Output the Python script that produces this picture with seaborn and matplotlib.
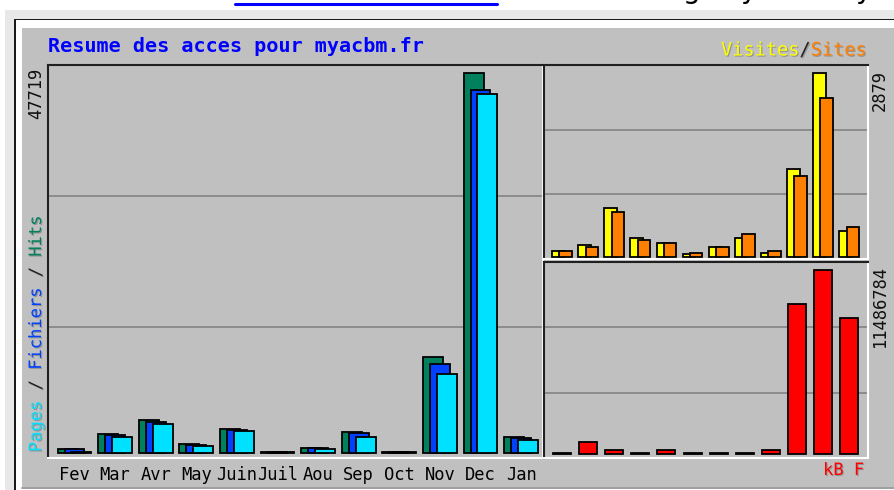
import matplotlib
matplotlib.use("Agg")
import matplotlib.pyplot as plt
import matplotlib.patheffects as pe
from matplotlib.patches import Rectangle
from matplotlib.lines import Line2D
import numpy as np
import seaborn as sns

W, H = 894, 490

MONTHS = ["Fev", "Mar", "Avr", "May", "Juin", "Juil", "Aou", "Sep", "Oct", "Nov", "Dec", "Jan"]
HITS = [560, 2370, 4150, 1130, 3010, 90, 630, 2600, 100, 12055, 47719, 2050]
FILES = [520, 2300, 3900, 1050, 2950, 80, 600, 2550, 90, 11180, 45580, 1850]
PAGES = [150, 2000, 3700, 880, 2700, 70, 450, 2050, 80, 9920, 45080, 1630]
VISITS = [90, 183, 770, 288, 209, 37, 147, 288, 63, 1377, 2879, 408]
SITES = [90, 147, 707, 262, 209, 63, 147, 356, 90, 1267, 2497, 471]
KBYTES = [40000, 730000, 250000, 40000, 250000, 40000, 40000, 40000, 250000,
          9360000, 11486784, 8470000]

BG = "#c0c0c0"
C_HITS, C_FILES, C_PAGES = "#00805c", "#0040ff", "#00e0ff"
C_VISITS, C_SITES, C_KB = "#ffff00", "#ff8000", "#ff0000"

sns.set_style("white")
plt.rcParams["font.family"] = ["DejaVu Sans Mono"]

SHADOW = [pe.withSimplePatchShadow(offset=(0.8, -0.8), shadow_rgbFace="#808080", alpha=0.7)]
MONO_ADV = 0.602  # DejaVu Sans Mono advance, in em


def fx(x):
    return x / W


def fy(y):
    return 1 - y / H


def px_rect(x0, y0, x1, y1):
    return [x0 / W, 1 - y1 / H, (x1 - x0) / W, (y1 - y0) / H]


def add_rect(fig, x0, y0, x1, y1, color):
    fig.add_artist(Rectangle((fx(x0), fy(y1)), (x1 - x0) / W, (y1 - y0) / H,
                             transform=fig.transFigure, facecolor=color,
                             edgecolor="none", zorder=-10))


def style_box(ax, xlim, ylim):
    ax.set_facecolor(BG)
    ax.set_xlim(*xlim)
    ax.set_ylim(*ylim)
    lo, hi = ylim
    ax.set_yticks([lo + (hi - lo) / 3, lo + 2 * (hi - lo) / 3])
    ax.yaxis.grid(True, color="#8c8c8c", linewidth=1.4)
    ax.xaxis.grid(False)
    ax.set_axisbelow(True)
    ax.tick_params(left=False, bottom=False, labelleft=False, labelbottom=False)
    for side in ("left", "top"):
        ax.spines[side].set(color="#202020", linewidth=1.5, visible=True)
    for side in ("right", "bottom"):
        ax.spines[side].set(color="white", linewidth=1.5, visible=True)
    ax.set_xlabel("")
    ax.set_ylabel("")


def draw_bars(ax, values, offset, width, color):
    pos = np.arange(len(values)) + offset
    sns.barplot(x=pos, y=values, native_scale=True, width=width, color=color,
                saturation=1, edgecolor="black", linewidth=1.3, errorbar=None, ax=ax)


def multicolor(fig, x, y, parts, size, vertical=False):
    """Write coloured pieces one after another in a monospace font (pixel coords)."""
    adv = MONO_ADV * size * 100 / 72
    n = 0
    for txt, col in parts:
        if vertical:
            fig.text(fx(x), fy(y - n * adv), txt, color=col, fontsize=size, rotation=90,
                     rotation_mode="anchor", ha="left", va="center", path_effects=SHADOW)
        else:
            fig.text(fx(x + n * adv), fy(y), txt, color=col, fontsize=size,
                     ha="left", va="center", path_effects=SHADOW)
        n += len(txt)


fig = plt.figure(figsize=(W / 100, H / 100), dpi=100, facecolor="white")

# page frame around the chart
add_rect(fig, 5, 10, W, H, "#e8e8e8")
add_rect(fig, 14, 19, W, H, "#1a1a1a")
add_rect(fig, 15.5, 20.5, W, H, "white")
add_rect(fig, 22, 28, W, 487, BG)
fig.add_artist(Line2D([fx(22), 1], [fy(488), fy(488)], transform=fig.transFigure,
                      color="#8c8c8c", linewidth=1.2))
fig.add_artist(Line2D([fx(235), fx(497)], [fy(4.5), fy(4.5)], transform=fig.transFigure,
                      color="#0000ff", linewidth=2.2))
for x, ch in [(683, "g"), (740, "y"), (855, "y")]:
    fig.text(fx(x), fy(-2), ch, fontsize=20, color="black", family="DejaVu Sans",
             ha="left", va="baseline")

# main chart: hits / files / pages
ax_main = fig.add_axes(px_rect(48, 65, 543, 458))
draw_bars(ax_main, HITS, -0.17, 0.49, C_HITS)
draw_bars(ax_main, FILES, 0.0, 0.49, C_FILES)
draw_bars(ax_main, PAGES, 0.17, 0.49, C_PAGES)
style_box(ax_main, (-0.653, 11.54), (-628, 48723))
ax_main.set_xticks(range(len(MONTHS)))
ax_main.set_xticklabels(MONTHS, fontsize=12.3, color="black")
ax_main.tick_params(labelbottom=True, pad=2)

# visits / sites
ax_vis = fig.add_axes(px_rect(544, 65, 868, 259))
draw_bars(ax_vis, VISITS, -0.14, 0.48, C_VISITS)
draw_bars(ax_vis, SITES, 0.14, 0.48, C_SITES)
style_box(ax_vis, (-0.69, 11.72), (-36, 3011))

# kbytes
ax_kb = fig.add_axes(px_rect(544, 262, 868, 458))
draw_bars(ax_kb, KBYTES, 0.0, 0.69, C_KB)
style_box(ax_kb, (-0.69, 11.72), (-249713, 11986209))

# titles and labels
fig.text(fx(48), fy(46), "Resume des acces pour myacbm.fr", color="#0000ff",
         fontsize=14.5, fontweight="bold", ha="left", va="center")

multicolor(fig, 721, 50, [("Visites", C_VISITS), ("/", "#202020"), ("Sites", C_SITES)], 13.4)

fig.text(fx(823), fy(470), "kB F", color=C_KB, fontsize=12.3, ha="left", va="center",
         path_effects=SHADOW)

rot = dict(rotation=90, rotation_mode="anchor", va="center", fontsize=12.3)
fig.text(fx(36), fy(68), str(max(HITS)), color="#101010", ha="right", **rot)
fig.text(fx(880), fy(70), str(max(VISITS)), color="#101010", ha="right", **rot)
fig.text(fx(880), fy(265), str(max(KBYTES)), color="#101010", ha="right", **rot)

multicolor(fig, 36, 452, [("Pages", C_PAGES), (" / ", "#202020"), ("Fichiers", C_FILES),
                          (" / ", "#202020"), ("Hits", C_HITS)], 12.3, vertical=True)

fig.savefig("out.png", dpi=100, facecolor="white")
